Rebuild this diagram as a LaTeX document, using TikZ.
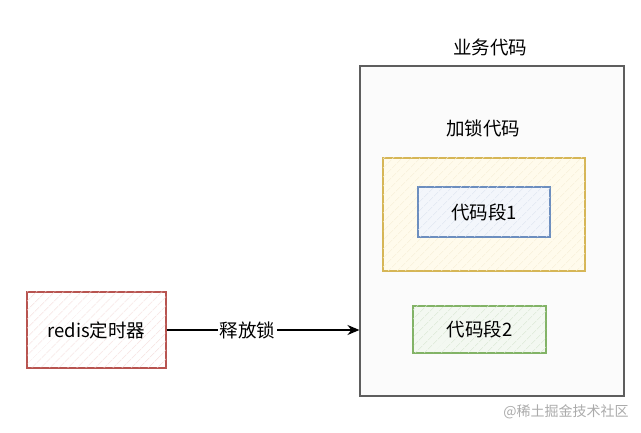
\documentclass[tikz,border=0pt]{standalone}
\usepackage{fontspec}
\setmainfont{Noto Sans CJK SC}
\usetikzlibrary{arrows.meta,patterns.meta}
\definecolor{outerdraw}{HTML}{5E5E5E}
\definecolor{outerfill}{HTML}{FBFBFB}
\definecolor{reddraw}{HTML}{B85450}
\definecolor{redfill}{HTML}{FFFFFF}
\definecolor{redhatch}{HTML}{F2D4D2}
\definecolor{yeldraw}{HTML}{D6B656}
\definecolor{yelfill}{HTML}{FFFBEC}
\definecolor{yelhatch}{HTML}{F6EED6}
\definecolor{bluedraw}{HTML}{6C8EBF}
\definecolor{bluefill}{HTML}{F3F6FB}
\definecolor{bluehatch}{HTML}{DCE4F0}
\definecolor{greendraw}{HTML}{82B366}
\definecolor{greenfill}{HTML}{F3F8F1}
\definecolor{greenhatch}{HTML}{D8E6D2}
\tikzset{
  hatchbox/.style n args={3}{draw=#1, fill=#2, line width=1.1pt, rectangle, inner sep=0pt,
    postaction={pattern={Lines[angle=45,distance=6.5pt,line width=0.6pt]}, pattern color=#3}},
  lbl/.style={font=\fontsize{18.5}{21}\selectfont, text=black, inner sep=1pt},
  conn/.style={line width=1.4pt, -{Stealth[length=12pt,width=10pt]}}
}
\begin{document}
\begin{tikzpicture}[x=1pt,y=-1pt]
\useasboundingbox (0,0) rectangle (641,433);
\fill[white] (0,0) rectangle (641,433);
\node[draw=outerdraw, fill=outerfill, line width=1.1pt, minimum width=264pt, minimum height=330pt, inner sep=0pt] (outer) at (492,231) {};
\node[lbl] (outerlbl) at (490,47) {业务代码};
\node[lbl] (locklbl) at (483,128) {加锁代码};
\node[hatchbox={yeldraw}{yelfill}{yelhatch}, minimum width=202pt, minimum height=113pt] (lock) at (484,214.5) {};
\node[hatchbox={bluedraw}{bluefill}{bluehatch}, minimum width=132pt, minimum height=50pt] (seg1) at (484,212) {};
\node[lbl] at (seg1) {代码段1};
\node[hatchbox={greendraw}{greenfill}{greenhatch}, minimum width=133pt, minimum height=47pt] (seg2) at (479.5,329.5) {};
\node[lbl] at (seg2) {代码段2};
\node[hatchbox={reddraw}{redfill}{redhatch}, minimum width=139pt, minimum height=76pt] (redis) at (96.5,330) {};
\node[lbl] at (redis) {redis定时器};
\draw[conn] (redis.east) -- node[pos=0.42, lbl, fill=white, inner sep=2pt] (rel) {释放锁} (redis.east -| outer.west);
\node[font=\fontsize{14}{16}\selectfont, text=black!33] (wm) at (566,412) {@稀土掘金技术社区};
\end{tikzpicture}
\end{document}
